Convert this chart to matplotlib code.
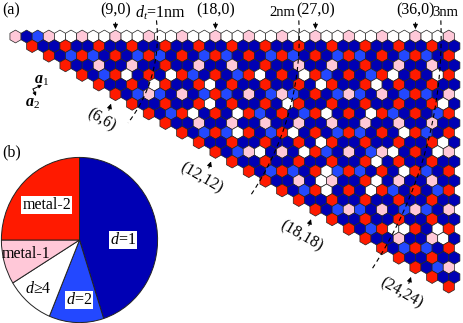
import numpy as np
import matplotlib.pyplot as plt
from matplotlib.patches import RegularPolygon

plt.rcParams['font.family'] = ['Liberation Serif', 'DejaVu Serif']
plt.rcParams['font.size'] = 11.5
plt.rcParams['mathtext.fontset'] = 'custom'
plt.rcParams['mathtext.rm'] = 'Liberation Serif'
plt.rcParams['mathtext.it'] = 'Liberation Serif:italic'
plt.rcParams['mathtext.bf'] = 'Liberation Serif:bold'
plt.rcParams['mathtext.bfit'] = 'Liberation Serif:italic:bold'

# tube class for every (n,m), one string per row m, first entry is n = m
# D: d=1, B: d=2, W: d>=4, P: metal-1, R: metal-2
rows = [
    "PDBPWWPWWPWWPWWPWWPWWPWWPWWPWWPWWPWWPWWP",
    "RDDRDDRDDRDDRDDRDDRDDRDDRDDRDDRDDRDDRDD",
    "RDBRBDRDBRBDRDBRBDRDBRBDRDBRBDRDBRBDR",
    "RDDPDDPDDRDDPDDPDDRDDPDDPDDRDDPDDPDD",
    "RDBRWDRDWRBDRDBRWDRDWRBDRDBRWDRDWR",
    "RDDRDWRDDRWDRDDRDDRDWRDDRWDRDDRDD",
    "RDBPBDPDBRBDPDBPBDRDBPBDPDBRBDP",
    "RDDRDDRWDRDDRDWRDDRDDRDDRDDRWD",
    "RDBRWDRDWRBDRDBRWDRDWRBDRDBR",
    "RDDPDDPDDPDDPDDPDDPDDPDDPDD",
    "RDBRBWRDBRWDRDBRBDRDWRBDR",
    "RDDRDDRDDRDWRDDRDDRDDRWD",
    "RDBPWDPDWRBDPDBPWDRDWP",
    "RDDRDDRDDRDDRWDRDDRDD",
    "RDBRBDRWBRBDRDWRBDR",
    "RDDPDWPDDRWDPDDPDD",
    "RDBRWDRDWRBDRDBR",
    "RDDRDDRDDRDDRDD",
    "RDBPBDPDBPBDP",
    "RDDRDDRDDRDD",
    "RDBRWWRDWR",
    "RDDPDDPWD",
    "RDBRBDR",
    "RDDRDD",
    "RDBP",
    "RDD",
    "R",
]
hex_colors = {'D': '#0000b4', 'B': '#2348ff', 'W': 'white',
              'P': '#ffc8d8', 'R': '#ff1a00'}

zigzag_marks = [9, 18, 27, 36]
armchair_marks = [6, 12, 18, 24]
diam_nm = [1, 2, 3]
diam_labels = ['$d_t$=1nm', '2nm', '3nm']
diam_label_x = [13.0, 24.0, 38.7]
diam_label_size = [11.5, 10.5, 10.5]
diam_end_deg = [-37.5, -34, -33]

pie_names = ['$d$=1', '$d$=2', '$d$≥4', 'metal-1', 'metal-2']
pie_values = [45.0, 11.3, 10.0, 8.7, 25.0]
pie_colors = ['#0000b4', '#2348ff', 'white', '#ffc8d8', '#ff1a00']
pie_text_pos = [(0.56, 0.0), (-0.01, -0.73), (-0.53, -0.59), (-0.69, -0.17), (-0.42, 0.42)]
pie_boxed = [True, True, False, False, True]

W, H = 463, 323
fig = plt.figure(figsize=(W / 100, H / 100), dpi=100)

# (a) chirality map, lattice units: (n,m) -> (n + m/2, -m*sqrt(3)/2)
ax = fig.add_axes([0, 0, 1, 1])
unit = 11.11
x0, y0 = 15.5, 36.5
ax.set_xlim(-x0 / unit, (W - x0) / unit)
ax.set_ylim(-(H - y0) / unit, y0 / unit)
ax.axis('off')
s3 = np.sqrt(3) / 2

for m, row in enumerate(rows):
    for i, c in enumerate(row):
        n = m + i
        ax.add_patch(RegularPolygon((n + m / 2, -m * s3), 6, radius=1 / np.sqrt(3),
                                    orientation=0, fc=hex_colors[c], ec='#222222', lw=0.5))

for n in zigzag_marks:
    ax.annotate(f'({n},0)', xy=(n, 0.66), xytext=(n, 2.35), ha='center', va='center',
                arrowprops=dict(arrowstyle='-|>', color='black', lw=0.7,
                                mutation_scale=7, shrinkA=1, shrinkB=0))

for k in armchair_marks:
    cx, cy = 1.5 * k, -k * s3
    ax.annotate('', xy=(cx - 0.4, cy - 0.85), xytext=(cx - 0.6, cy - 1.45),
                arrowprops=dict(arrowstyle='-|>', color='black', lw=0.7,
                                mutation_scale=7, shrinkA=0, shrinkB=0))
    ax.text(cx - 1.25, cy - 2.35, f'({k},{k})', ha='center', va='center',
            rotation=-30, rotation_mode='anchor')

for d, lab, lx, fs, end in zip(diam_nm, diam_labels, diam_label_x, diam_label_size, diam_end_deg):
    r = np.pi * d / 0.246
    top = np.degrees(np.arcsin(1.45 / r))
    th = np.radians(np.linspace(top, end, 200))
    ax.plot(r * np.cos(th), r * np.sin(th), color='black', lw=0.8, ls=(0, (4, 3)))
    ax.text(lx, 2.15, lab, ha='center', va='center', fontsize=fs)

# lattice vectors
ax.annotate('', xy=(42 / W, 1 - 85 / H), xytext=(33 / W, 1 - 89 / H), xycoords='axes fraction',
            arrowprops=dict(arrowstyle='-|>', color='black', lw=0.7, mutation_scale=5,
                            shrinkA=0, shrinkB=0))
ax.annotate('', xy=(36 / W, 1 - 96 / H), xytext=(33 / W, 1 - 89 / H), xycoords='axes fraction',
            arrowprops=dict(arrowstyle='-|>', color='black', lw=0.7, mutation_scale=5,
                            shrinkA=0, shrinkB=0))
fig.text(42 / W, 1 - 80 / H, r'$\mathbfit{a}_1$', ha='center', va='center')
fig.text(33 / W, 1 - 103 / H, r'$\mathbfit{a}_2$', ha='center', va='center')

fig.text(2 / W, 1 - 2 / H, '(a)', ha='left', va='top')
fig.text(2 / W, 1 - 144 / H, '(b)', ha='left', va='top')

# (b) pie
pax = fig.add_axes([1 / W, 0, 157 / W, 166 / H])
pax.pie(pie_values, colors=pie_colors, startangle=90, counterclock=False,
        wedgeprops=dict(ec='#222222', lw=0.7))
pax.set_aspect('auto')
pax.set_xlim(-1.005, 1.005)
pax.set_ylim(-1.005, 1.005)
for name, (tx, ty), boxed in zip(pie_names, pie_text_pos, pie_boxed):
    kw = dict(bbox=dict(fc='white', ec='none', pad=0.8)) if boxed else {}
    pax.text(tx, ty, name, ha='center', va='center', **kw)

fig.savefig('out.png', dpi=100)
